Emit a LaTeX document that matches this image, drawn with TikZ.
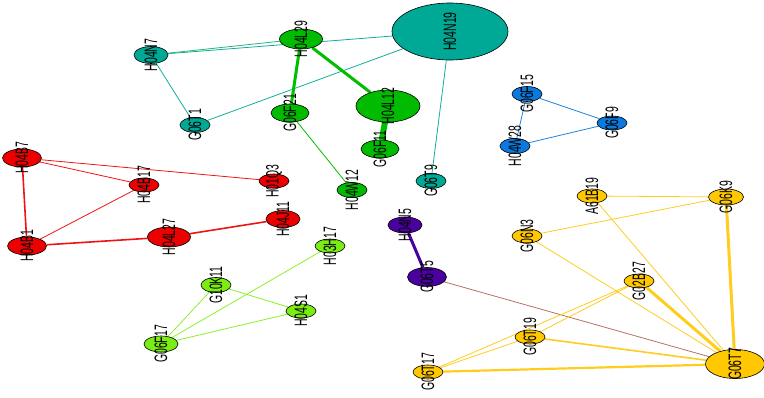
\documentclass[tikz,border=0pt]{standalone}
\usepackage{fontspec}
\setmainfont{Liberation Sans}
\usetikzlibrary{shapes.geometric}
\pgfdeclarelayer{edges}
\pgfsetlayers{edges,main}
\definecolor{cteal}{RGB}{0,168,150}
\definecolor{cgreen}{RGB}{0,187,0}
\definecolor{cblue}{RGB}{10,122,222}
\definecolor{cred}{RGB}{236,0,0}
\definecolor{clime}{RGB}{122,238,20}
\definecolor{cpurple}{RGB}{75,0,160}
\definecolor{cgold}{RGB}{255,200,0}
\definecolor{eteal}{RGB}{20,172,155}
\definecolor{egreen}{RGB}{0,190,0}
\definecolor{eblue}{RGB}{30,130,225}
\definecolor{ered}{RGB}{238,20,20}
\definecolor{elime}{RGB}{140,240,40}
\definecolor{egold}{RGB}{255,205,30}
\definecolor{ebrown}{RGB}{178,115,100}
\definecolor{emix}{RGB}{40,180,120}
\tikzset{
  ell/.style={ellipse, draw=black, line width=0.6pt, inner sep=0pt},
  lbl/.style={rotate=90, inner sep=0pt, text=black, font=\fontsize{18}{18}\selectfont},
  thin/.style={line width=0.8pt},
  med/.style={line width=1.6pt},
  thick/.style={line width=3pt},
  vthick/.style={line width=6pt},
}
\newcommand{\nd}[7]{%
  \node[ell, fill=#6, minimum width=#4pt, minimum height=#5pt] (#1) at (#2,#3) {};
  \node[lbl] (#1-l) at (#1.center) {\scalebox{0.58}[1]{#7}};
}
\begin{document}
\begin{tikzpicture}[x=1pt,y=-1pt]
\useasboundingbox (0,0) rectangle (764,398);
% teal
\nd{H04N19}{450}{31.5}{116}{57}{cteal}{H04N19}
\nd{H04N7}{151}{55}{34}{17}{cteal}{H04N7}
\nd{G06T1}{195}{125}{30}{15}{cteal}{G06T1}
\nd{G06T9}{431}{181}{30}{15}{cteal}{G06T9}
% green
\nd{H04L29}{301}{39}{43}{20}{cgreen}{H04L29}
\nd{G06F21}{290}{113}{38}{18}{cgreen}{G06F21}
\nd{H04L12}{388}{106}{64}{32}{cgreen}{H04L12}
\nd{G06F11}{380}{149}{38}{18}{cgreen}{G06F11}
\nd{H04W12}{352}{190}{30}{15}{cgreen}{H04W12}
% blue
\nd{G06F15}{527}{94}{30}{15}{cblue}{G06F15}
\nd{G06F9}{612}{123}{30}{14}{cblue}{G06F9}
\nd{H04W28}{515}{146}{30}{15}{cblue}{H04W28}
% red
\nd{H04B7}{22}{158}{39}{18}{cred}{H04B7}
\nd{H04B17}{144}{185}{30}{14}{cred}{H04B17}
\nd{H04B1}{27}{246}{39}{18}{cred}{H04B1}
\nd{H04L27}{169}{237}{43}{20}{cred}{H04L27}
\nd{H01Q3}{274}{181}{30}{14}{cred}{H01Q3}
\nd{H04J11}{283}{219}{34}{17}{cred}{H04J11}
% lime
\nd{H03H17}{330}{246}{30}{14}{clime}{H03H17}
\nd{G10K11}{216}{285}{30}{15}{clime}{G10K11}
\nd{H04S1}{301}{311}{30}{14}{clime}{H04S1}
\nd{G06F17}{161}{344}{34}{16}{clime}{G06F17}
% purple
\nd{H04N5}{405}{225}{34}{16}{cpurple}{H04N5}
\nd{G06T5}{427}{277}{39}{19}{cpurple}{G06T5}
% gold
\nd{G06N3}{527}{236}{30}{14}{cgold}{G06N3}
\nd{G06T19}{530}{337}{30}{14}{cgold}{G06T19}
\nd{G06T17}{428}{372}{30}{14}{cgold}{G06T17}
\nd{A61B19}{592}{196}{30}{14}{cgold}{A61B19}
\nd{G06K9}{726}{197}{35}{16}{cgold}{G06K9}
\nd{G02B27}{639}{281}{30}{14}{cgold}{G02B27}
\nd{G06T7}{735}{364}{59}{29}{cgold}{G06T7}

\begin{pgfonlayer}{edges}
% teal
\draw[eteal, thin] (H04N7) -- (H04N19);
\draw[emix, thin] (H04N7) -- (H04L29);
\draw[eteal, thin] (H04N7) -- (G06T1);
\draw[eteal, thin] (G06T1) -- (H04N19);
\draw[eteal, thin] (H04N19) -- (G06T9);
% green
\draw[egreen, thick] (H04L29) -- (G06F21);
\draw[egreen, thick] (H04L29) -- (H04L12);
\draw[egreen, vthick] (H04L12) -- (G06F11);
\draw[egreen, thin] (G06F21) -- (H04W12);
% blue
\draw[eblue, thin] (G06F15) -- (H04W28);
\draw[eblue, thin] (G06F15) -- (G06F9);
\draw[eblue, thin] (H04W28) -- (G06F9);
% red
\draw[ered, med] (H04B7) -- (H04B1);
\draw[ered, thin] (H04B7) -- (H04B17);
\draw[ered, thin] (H04B7) -- (H01Q3);
\draw[ered, thin] (H04B1) -- (H04B17);
\draw[ered, med] (H04B1) -- (H04L27);
\draw[ered, med] (H04L27) -- (H04J11);
% lime
\draw[elime, thin] (G06F17) -- (G10K11);
\draw[elime, thin] (G06F17) -- (H03H17);
\draw[elime, thin] (G06F17) -- (H04S1);
\draw[elime, thin] (G10K11) -- (H04S1);
% purple
\draw[cpurple, thick] (H04N5) -- (G06T5);
\draw[ebrown, thin] (G06T5) -- (G06T7);
% gold
\draw[egold, thin] (G06N3) -- (G06K9);
\draw[egold, thin] (G06N3) -- (G06T7);
\draw[egold, thin] (A61B19) -- (G06K9);
\draw[egold, thin] (A61B19) -- (G06T7);
\draw[egold, thick] (G06K9) -- (G06T7);
\draw[egold, thick] (G02B27) -- (G06T7);
\draw[egold, thin] (G06T17) -- (G02B27);
\draw[egold, thin] (G06T17) -- (G06T19);
\draw[egold, thin] (G06T19) -- (G02B27);
\draw[egold, med] (G06T19) -- (G06T7);
\draw[egold, line width=2.2pt] (G06T17) -- (G06T7);
\end{pgfonlayer}
\end{tikzpicture}
\end{document}
